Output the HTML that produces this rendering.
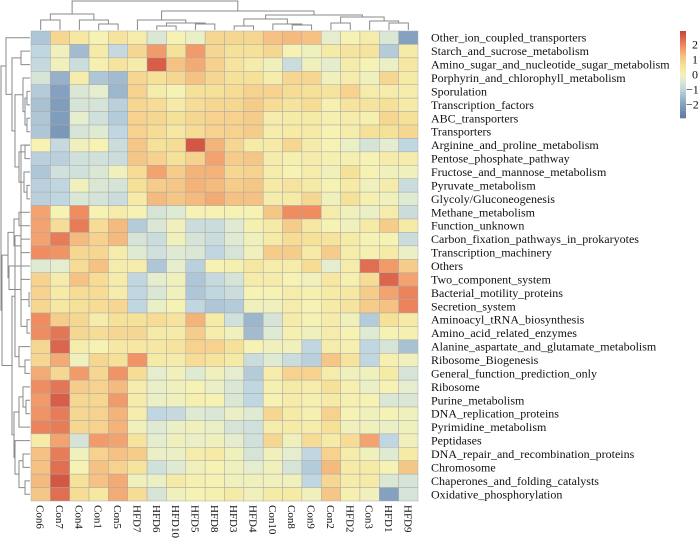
<!DOCTYPE html>
<html><head><meta charset="utf-8"><style>
html,body{margin:0;padding:0;background:#fff;}
svg{display:block;font-family:"Liberation Serif",serif;}
</style></head><body>
<svg id="chart" width="700" height="538" viewBox="0 0 700 538" xmlns="http://www.w3.org/2000/svg">
<g id="cells"></g>
<g id="coldend"></g>
<g id="rowdend"></g>
<g id="rowlabels"></g>
<g id="collabels"></g>
<g id="legend"></g>
</svg>
<script>
const columns = ["Con6","Con7","Con4","Con1","Con5","HFD7","HFD6","HFD10","HFD5","HFD8","HFD3","HFD4","Con10","Con8","Con9","Con2","HFD2","Con3","HFD1","HFD9"];
const rows = ["Other_ion_coupled_transporters","Starch_and_sucrose_metabolism","Amino_sugar_and_nucleotide_sugar_metabolism","Porphyrin_and_chlorophyll_metabolism","Sporulation","Transcription_factors","ABC_transporters","Transporters","Arginine_and_proline_metabolism","Pentose_phosphate_pathway","Fructose_and_mannose_metabolism","Pyruvate_metabolism","Glycoly/Gluconeogenesis","Methane_metabolism","Function_unknown","Carbon_fixation_pathways_in_prokaryotes","Transcription_machinery","Others","Two_component_system","Bacterial_motility_proteins","Secretion_system","Aminoacyl_tRNA_biosynthesis","Amino_acid_related_enzymes","Alanine_aspartate_and_glutamate_metabolism","Ribosome_Biogenesis","General_function_prediction_only","Ribosome","Purine_metabolism","DNA_replication_proteins","Pyrimidine_metabolism","Peptidases","DNA_repair_and_recombination_proteins","Chromosome","Chaperones_and_folding_catalysts","Oxidative_phosphorylation"];
const values = [
[-1.3,0.8,0.4,0.0,0.5,0.2,-0.5,0.0,-0.2,0.8,0.8,0.8,1.2,1.3,1.2,-0.3,0.0,0.2,-0.5,-2.0],
[-1.0,-0.1,-1.5,0.3,-0.9,0.8,1.7,0.6,1.7,0.8,0.6,0.6,0.8,0.0,-0.1,0.3,0.5,0.5,-1.2,0.3],
[-0.9,-0.1,-0.8,0.1,0.5,0.2,2.5,1.2,1.5,0.9,0.5,0.2,-0.1,-0.8,-0.1,-0.3,0.2,0.0,-0.2,0.4],
[-0.6,-1.7,0.2,-1.3,-1.5,0.8,0.6,0.8,1.2,0.8,0.6,0.6,0.2,0.8,0.8,-0.1,0.2,-0.1,0.8,0.3],
[-1.2,-2.0,-0.5,-0.3,-1.6,0.9,0.2,0.0,0.6,0.6,0.7,0.9,0.9,0.7,0.6,0.5,0.9,0.2,0.2,0.2],
[-1.4,-2.1,-0.6,-0.6,-1.1,0.8,0.7,0.3,0.7,0.8,0.8,1.0,0.7,0.5,0.7,0.1,0.5,0.5,0.6,0.3],
[-1.3,-2.1,-0.3,-0.7,-1.2,0.9,0.8,0.6,0.8,0.9,0.9,1.0,0.2,0.3,0.3,0.1,0.2,0.1,0.8,0.6],
[-1.3,-2.2,-0.6,-0.4,-1.0,0.9,0.7,0.4,0.7,0.9,0.9,1.0,0.2,0.3,0.3,0.0,0.2,0.6,0.6,0.8],
[0.0,-0.9,-0.1,0.0,-0.8,1.1,0.6,0.7,2.6,1.4,0.8,0.3,0.3,0.8,0.2,0.0,-0.2,-0.6,-0.3,-1.0],
[-1.1,-1.1,-0.7,-0.7,-0.8,1.1,0.9,0.6,0.9,1.6,1.0,1.1,0.2,0.1,0.2,0.1,0.1,0.0,0.2,0.2],
[-1.3,-0.7,-0.7,-0.5,-0.1,0.7,1.6,1.0,1.4,1.4,0.8,0.9,0.2,0.0,0.2,-0.1,0.6,0.0,-0.1,-0.1],
[-1.1,-1.0,-0.1,-0.5,-0.6,0.6,1.0,1.1,1.4,1.3,1.0,1.1,0.3,0.5,0.3,0.0,0.3,-0.1,0.2,-0.8],
[-1.1,-1.0,-0.5,-0.6,-0.8,0.3,1.3,1.1,1.3,1.5,1.2,1.2,0.2,0.3,0.8,-0.1,0.6,0.1,-0.1,-0.4],
[1.6,0.0,1.9,0.0,0.2,0.0,-0.6,-0.4,0.0,0.0,0.0,0.0,1.1,1.9,1.9,0.2,-0.1,-0.2,0.2,-0.8],
[1.6,0.7,2.1,0.7,1.3,-1.2,-0.5,-0.1,-0.8,-0.8,-0.4,0.1,0.3,1.0,0.4,0.0,-0.1,0.3,1.0,0.3],
[1.6,2.1,1.3,0.9,1.3,-0.6,-0.8,-0.1,-0.6,-0.8,-0.4,-0.1,0.3,0.7,0.6,0.5,0.3,0.0,0.0,-0.8],
[1.9,1.8,0.8,0.8,0.2,-0.4,-0.7,-0.4,-0.5,-1.0,-0.6,-0.1,1.0,1.0,0.3,1.0,0.2,0.1,0.3,-0.2],
[-0.4,-0.3,0.7,1.2,0.2,0.2,-1.3,-0.3,-1.1,0.0,0.1,0.4,0.2,0.2,0.7,-0.3,0.2,2.3,1.7,1.0],
[0.9,0.2,1.2,0.7,0.2,-1.0,-0.3,-0.1,-1.3,-0.9,-0.6,0.2,0.2,0.0,-0.1,0.4,0.1,0.7,2.4,1.6],
[0.9,0.3,0.7,0.7,0.2,-1.0,-0.5,-0.1,-1.3,-1.0,-0.8,0.0,0.0,0.2,0.1,0.3,0.4,1.0,1.6,2.0],
[0.8,0.4,0.6,0.7,0.8,-1.0,-0.2,0.0,-1.0,-1.3,-1.2,-0.1,-0.1,0.2,0.0,0.3,0.5,1.0,1.2,2.0],
[1.9,1.0,0.8,0.2,0.6,0.6,0.7,0.5,1.4,0.3,-0.7,-1.6,-0.6,0.2,0.0,0.2,-0.1,-1.2,0.6,0.3],
[1.9,2.2,0.8,0.7,0.8,0.8,0.3,0.3,1.0,0.2,-0.1,-1.5,-0.4,0.1,-0.1,0.2,0.0,-0.4,0.0,0.1],
[0.8,2.4,0.2,0.0,0.4,0.4,0.4,0.5,0.9,0.9,0.6,0.0,-0.1,-0.1,-1.0,0.2,0.1,-1.0,-0.6,-1.4],
[0.8,1.5,-0.1,0.8,0.6,1.8,0.3,0.2,0.7,0.5,0.3,-0.8,-0.4,-0.8,-1.1,1.1,0.5,-1.0,0.1,-0.1],
[1.5,0.8,1.7,0.8,1.8,0.7,-0.3,-0.1,-0.4,-0.1,-0.3,-1.2,0.2,0.9,0.9,0.2,-0.1,-0.1,0.3,-0.6],
[1.9,2.2,1.0,0.9,1.3,0.2,-0.2,-0.1,0.0,-0.2,-0.5,-1.0,0.1,0.3,0.2,0.6,0.1,-0.2,0.0,-0.3],
[1.7,2.5,0.8,0.8,1.7,0.2,-0.2,-0.1,0.1,0.0,-0.5,-1.0,0.0,0.2,0.1,0.3,0.1,0.0,-0.5,-0.5],
[1.8,2.1,0.8,0.9,1.4,0.2,-1.0,-0.9,-0.4,-0.5,-0.2,-0.4,0.8,0.3,0.1,0.9,0.0,-0.1,0.0,-0.1],
[2.0,2.1,0.8,0.9,1.4,-0.1,-0.4,-0.2,-0.1,-0.2,-0.6,-0.7,0.2,0.3,0.2,0.6,-0.1,-0.1,-0.2,-0.1],
[0.3,1.6,-0.6,1.7,1.6,0.5,-0.3,-0.1,-0.2,-0.1,-0.3,-0.7,0.8,-0.1,0.7,0.3,0.7,1.6,-1.0,-0.1],
[1.2,2.1,-0.1,0.9,1.2,1.0,-0.2,-0.2,0.2,0.3,-0.1,-0.6,-0.1,-0.3,-1.0,0.9,0.2,-0.1,-0.4,0.3],
[1.2,2.3,0.0,1.2,0.9,0.5,-0.7,-0.4,-0.1,0.0,-0.1,-0.3,-0.1,-0.6,-1.2,1.3,0.3,0.3,0.0,1.1],
[1.3,2.6,0.6,1.2,1.5,-0.1,-0.2,0.3,0.1,0.0,-0.1,-0.1,-0.1,-0.1,-1.0,0.8,0.2,0.3,-0.5,-0.6],
[1.1,2.3,0.7,0.4,1.5,0.7,-0.6,-0.1,0.0,0.1,0.3,-0.1,0.3,0.3,-0.1,1.1,0.1,-0.1,-2.0,-0.6]
];
const legendTicks = [2,1,0,-1,-2];
const legendLabels = ["2","1","0","\u22121","\u22122"];
// dendrogram topology (leaf indices; node = [height, left, right])
const colTree = [30,[17,[11,0,1],[11,2,[7,3,4]]],[20,[11,5,[8,[5,6,7],[7,8,9]]],[16,[12,[5,10,11],[7,12,[6,13,14]]],[14,[8,15,16],[10,17,[8,18,19]]]]]];
const rowTree = [29,[24,0,[18,[9,1,2],[15,[7,3,[5,[3,4,5],[3,6,7]]],[11,[5,8,9],[6,10,[3,11,12]]]]]],[28,[22,[16,[11,13,14],[9,15,16]],[21,17,[9,18,[1,19,20]]]],[18,[15,[9,[3,21,22],8],[11,23,[5,24,25]]],[16,[11,[7,26,[4,27,28]],29],[15,30,[11,[7,31,32],[5,33,34]]]]]]];

const X0=31, X1=418, Y0=31, Y1=501;
const cw=(X1-X0)/columns.length, rh=(Y1-Y0)/rows.length;
const xCol=i=>X0+cw*i, yRow=i=>Y0+rh*i;
const VMIN=-2.9, VMAX=2.9;
const stops=[[-2.9,[93,119,163]],[-1.9,[138,166,194]],[-1.0,[192,214,224]],[-0.35,[226,236,210]],[0,[245,242,180]],[0.6,[246,225,153]],[1.2,[245,194,131]],[1.9,[239,140,96]],[2.9,[201,64,58]]];
function color(v){v=Math.max(VMIN,Math.min(VMAX,v));for(let k=0;k<stops.length-1;k++){const a=stops[k],b=stops[k+1];if(v<=b[0]){const t=(v-a[0])/(b[0]-a[0]);const c=a[1].map((x,j)=>Math.round(x+(b[1][j]-x)*t));return `rgb(${c})`;}}return 'rgb(201,64,58)';}
const NS="http://www.w3.org/2000/svg";
function mk(tag,attrs,parent){const e=document.createElementNS(NS,tag);for(const k in attrs)e.setAttribute(k,attrs[k]);parent.appendChild(e);return e;}
const cells=document.getElementById('cells');
values.forEach((row,r)=>row.forEach((v,c)=>{
  const e=mk('rect',{x:xCol(c),y:yRow(r),width:cw,height:rh,fill:color(v),stroke:'#a9a9a9','stroke-width':0.5},cells);
  
  
}));
const rl=document.getElementById('rowlabels');
rows.forEach((n,r)=>{const t=mk('text',{x:431,y:yRow(r)+rh/2+4,'font-size':12,fill:'#111'},rl);t.textContent=n;
  
  });
const cl=document.getElementById('collabels');
columns.forEach((n,c)=>{const cx=xCol(c)+cw/2-4;const t=mk('text',{x:0,y:0,'font-size':11,fill:'#111',transform:`translate(${cx},505) rotate(90)`},cl);t.textContent=n;
  
  });
// dendrograms
const st={stroke:'#8a8a8a','stroke-width':1,fill:'none'};
function colDraw(node,g){
  if(typeof node==='number') return [xCol(node)+cw/2,30];
  const y=31-node[0];const a=colDraw(node[1],g),b=colDraw(node[2],g);
  const p=mk('path',Object.assign({d:`M${a[0]},${a[1]}V${y}H${b[0]}V${b[1]}`},st),g);
  
  
  return [(a[0]+b[0])/2,y];}
function rowDraw(node,g){
  if(typeof node==='number') return [30,yRow(node)+rh/2];
  const x=30-node[0];const a=rowDraw(node[1],g),b=rowDraw(node[2],g);
  const p=mk('path',Object.assign({d:`M${a[0]},${a[1]}H${x}V${b[1]}H${b[0]}`},st),g);
  
  
  return [x,(a[1]+b[1])/2];}
colDraw(colTree,document.getElementById('coldend'));
rowDraw(rowTree,document.getElementById('rowdend'));
// legend
const lg=document.getElementById('legend');
const LY0=31,LY1=118,LX=680,LW=6;
const ly=v=>LY0+(VMAX-v)/(VMAX-VMIN)*(LY1-LY0);
for(let i=0;i<87;i++){const v=VMAX-(i+0.5)/87*(VMAX-VMIN);const e=mk('rect',{x:LX,y:LY0+i*(LY1-LY0)/87,width:LW,height:(LY1-LY0)/87+0.3,fill:color(v)},lg);
  
  }
legendTicks.forEach((v,i)=>{const t=mk('text',{x:legendLabels[i].length>1?686:692,y:ly(v)+4,'font-size':12,fill:'#111'},lg);t.textContent=legendLabels[i];
  
  });
</script>
</body></html>
